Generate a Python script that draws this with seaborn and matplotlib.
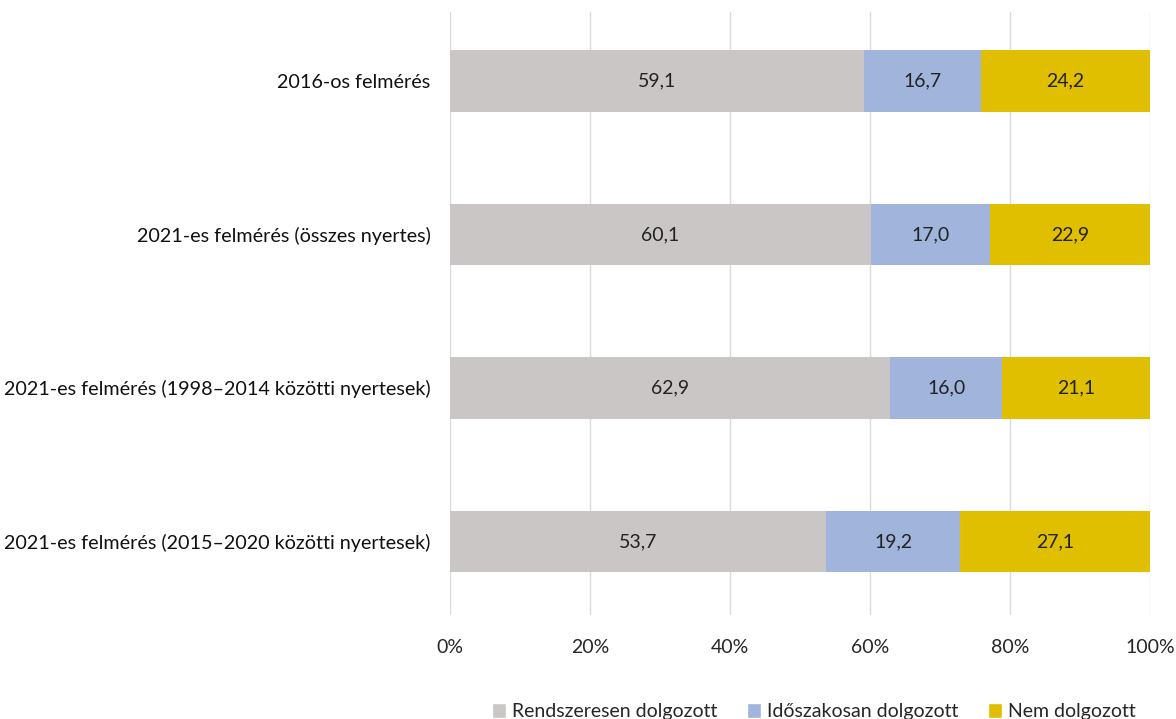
import pandas as pd
import seaborn as sns
import matplotlib.pyplot as plt
from matplotlib.patches import Patch

# Data
categories = [
    '2016-os felmérés',
    '2021-es felmérés (összes nyertes)',
    '2021-es felmérés (1998–2014 közötti nyertesek)',
    '2021-es felmérés (2015–2020 közötti nyertesek)',
]
rendszeresen = [59.1, 60.1, 62.9, 53.7]
idoszakosan = [16.7, 17.0, 16.0, 19.2]
nem = [24.2, 22.9, 21.1, 27.1]
series_names = ['Rendszeresen dolgozott', 'Időszakosan dolgozott', 'Nem dolgozott']
colors = ['#C9C6C5', '#A0B4DC', '#DFBF00']

df = pd.DataFrame({'cat': categories, 'r': rendszeresen, 'i': idoszakosan, 'n': nem})
df['ri'] = df['r'] + df['i']
df['rin'] = df['ri'] + df['n']

sns.set_style('white')
plt.rcParams['font.family'] = ['Lato', 'DejaVu Sans']

fig = plt.figure(figsize=(11.76, 7.19), dpi=100)
ax = fig.add_axes([0.3827, 0.1446, 0.5952, 0.8387])

# Stacked bars by overlaying cumulative totals
bar_kw = dict(width=0.4, saturation=1, linewidth=0, ax=ax)
sns.barplot(data=df, y='cat', x='rin', color=colors[2], zorder=2, **bar_kw)
sns.barplot(data=df, y='cat', x='ri', color=colors[1], zorder=3, **bar_kw)
sns.barplot(data=df, y='cat', x='r', color=colors[0], zorder=4, **bar_kw)

# Segment labels
for i, row in df.iterrows():
    for left, val in [(0, row['r']), (row['r'], row['i']), (row['ri'], row['n'])]:
        ax.text(left + val / 2, i, f'{val:.1f}'.replace('.', ','),
                ha='center', va='center', fontsize=14, color='#222222', zorder=5)

ax.set_xlim(0, 100)
ax.set_ylim(3.48, -0.45)
ax.set_xticks([0, 20, 40, 60, 80, 100])
ax.set_xticklabels([f'{t}%' for t in range(0, 101, 20)], fontsize=14)
ax.tick_params(axis='x', length=0, pad=17)
ax.tick_params(axis='y', length=0, pad=14, labelsize=14.2, labelcolor='#111111')
ax.set_xlabel('')
ax.set_ylabel('')
ax.grid(axis='x', color='#DADADA', linewidth=1, zorder=0)
ax.set_axisbelow(True)
for s in ax.spines.values():
    s.set_visible(False)

handles = [Patch(facecolor=c, label=n) for c, n in zip(colors, series_names)]
fig.legend(handles=handles, loc='center', bbox_to_anchor=(0.692, 0.01), ncol=3,
           frameon=False, fontsize=14, handlelength=0.75, handleheight=0.75,
           handletextpad=0.3, columnspacing=1.5)

fig.savefig('out.png', dpi=100)
